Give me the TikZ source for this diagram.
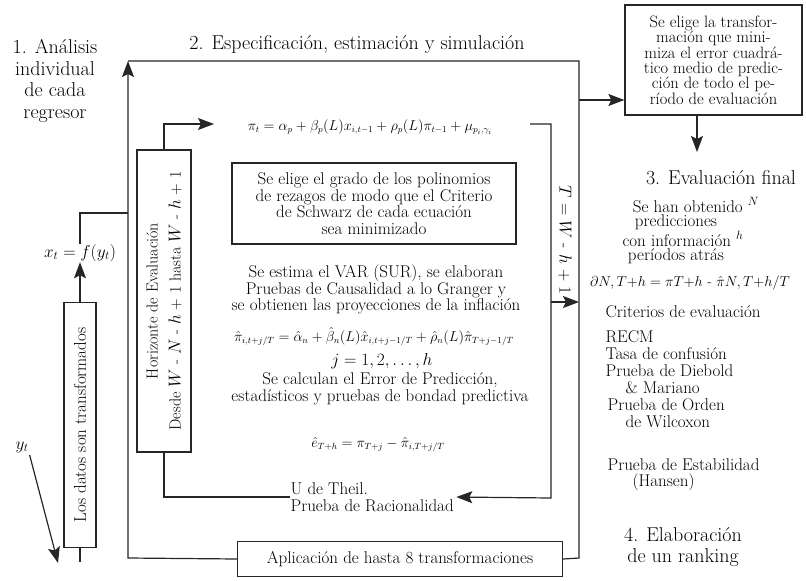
\documentclass[tikz,border=0pt]{standalone}
\usepackage{fontspec}
\usepackage{amsmath}
\usepackage{tikz}
\usetikzlibrary{positioning, arrows.meta}

\newcommand{\bodyfont}{\fontsize{17}{16.7}\selectfont}
\newcommand{\headfont}{\fontsize{20}{21.7}\selectfont}
\newcommand{\eqfont}{\fontsize{13.5}{15}\selectfont}

\begin{document}
\begin{tikzpicture}[x=1pt,y=-1pt,>={Stealth[length=16pt,width=12pt,inset=3pt]},
    line width=1.2pt,draw=black!85,
    every node/.style={font=\bodyfont,inner sep=0pt},
    head/.style={font=\headfont,align=center},
    rbox/.style={draw,line width=1.3pt,inner sep=4pt},
    eq/.style={font=\eqfont}]
    \useasboundingbox (0,0) rectangle (806,581);

    % headings
    \node[head] (analisis) at (55,81) {1. Análisis\\individual\\de cada\\regresor};
    \node[head] (especif) at (357,45) {2. Especificación, estimación y simulación};

    % outer loop
    \coordinate (tl) at (128,61);
    \coordinate (tr) at (579,61);
    \coordinate (br) at (579,558);
    \coordinate (bl) at (128,558);
    \coordinate (join) at (128,213);
    \node[rbox,minimum width=325pt,minimum height=35pt] (aplic) at (400,559) {Aplicación de hasta 8 transformaciones};
    \draw[->] (aplic.west) -- (bl) -- (tl);
    \draw (tl) -- (tr) -- (br) -- (aplic.east);

    % data
    \node (xt) at (80,253) {$x_t = f(y_t)$};
    \node[rbox,rotate=90,minimum width=245pt,minimum height=32pt] (datos) at (80,425) {Los datos son transformados};
    \coordinate (datosend) at (80,562);
    \node (yt) at (22,447) {$y_t$};
    \coordinate (ytend) at (58,563);
    \draw (xt.north) |- (join);
    \draw[->] (datos.east) -- (xt.south);
    \draw (datos.west) -- (datosend);
    \draw[->,shorten <=2pt] (yt.south east) -- (ytend);

    % inner loop
    \node[rbox,rotate=90,minimum width=302pt,minimum height=54pt,align=center,
          font=\fontsize{16}{23}\selectfont] (horiz) at (164,301)
          {Horizonte de Evaluación\\Desde $W$ - $N$ - $h$ + 1 hasta $W$ - $h$ + 1};
    \node[eq] (pit) at (370,127) {$\pi_t=\alpha_p+\beta_p(L)x_{i,t-1}+\rho_p(L)\pi_{t-1}+\mu_{p_i,\gamma_i}$};
    \coordinate (pitin) at (214,124);
    \coordinate (loopa) at (530,124);
    \coordinate (loopb) at (551,498);
    \node[anchor=west,align=left] (theil) at (290,497) {U de Theil.\\Prueba de Racionalidad};
    \draw[->] (horiz.east) |- (pitin);
    \draw[->,shorten >=2pt] (loopa) -| (loopb) -- (theil.east);
    \draw (theil.west) -| (horiz.west);

    \node[rbox,align=center,minimum width=284pt,minimum height=81pt] (grado) at (374,203.5)
          {Se elige el grado de los polinomios\\de rezagos de modo que el Criterio\\de Schwarz de cada ecuación\\sea minimizado};
    \node[align=center] (var) at (376,289.5)
          {Se estima el VAR (SUR), se elaboran\\Pruebas de Causalidad a lo Granger y\\se obtienen las proyecciones de la inflación};
    \node[eq] (pihat) at (374,337) {$\hat\pi_{i,t+j/T}=\hat\alpha_n+\hat\beta_n(L)\hat x_{i,t+j-1/T}+\hat\rho_n(L)\hat\pi_{T+j-1/T}$};
    \node (jidx) at (382,361) {$j = 1,2,\ldots,h$};
    \node[align=center] (calc) at (380,389)
          {Se calculan el Error de Predicción,\\estadísticos y pruebas de bondad predictiva};
    \node[eq] (ehat) at (378,445) {$\hat e_{T+h}=\pi_{T+j}-\hat\pi_{i,T+j/T}$};

    % exit of the inner loop
    \coordinate (exitl) at (551,302);
    \coordinate (exitr) at (579,302);
    \node[rotate=-90] (tcond) at (565,240) {$T$ = $W$ - $h$ + 1};
    \draw[->] (exitl) -- (exitr);

    % final evaluation
    \node[rbox,align=center,minimum width=177pt,minimum height=110pt,
          font=\fontsize{16.5}{15.4}\selectfont] (transf) at (713.5,60)
          {Se elige la transfor-\\mación que mini-\\miza el error cuadrá-\\tico medio de predic-\\ción de todo el pe-\\ríodo de evaluación};
    \coordinate (transin) at (579,100);
    \coordinate (evalin) at (697,152);
    \draw[->] (transin) -- (transin -| transf.west);
    \draw[->] (transf.south -| evalin) -- (evalin);

    \node[head] (evalfin) at (721,178) {3. Evaluación final};
    \node (obten) at (696,205) {Se han obtenido $^N$};
    \node (predic) at (676,222) {predicciones};
    \node (coninf) at (683,239) {con información $^h$};
    \node (periodos) at (676,256) {períodos atrás};
    \node[font=\fontsize{15}{16}\selectfont] (errfin) at (690,283) {$\partial N,T{+}h = \pi T{+}h$ - $\hat\pi N,T{+}h/T$};
    \node[anchor=west] (crit) at (605,312) {Criterios de evaluación};
    \node[anchor=west] (recm) at (605,337) {RECM};
    \node[anchor=west] (tasa) at (605,354) {Tasa de confusión};
    \node[anchor=west] (diebold) at (605,371) {Prueba de Diebold};
    \node[anchor=west] (mariano) at (625,388) {\& Mariano};
    \node[anchor=west] (orden) at (607,405) {Prueba de Orden};
    \node[anchor=west] (wilcox) at (625,422) {de Wilcoxon};
    \node[anchor=west] (estab) at (607,465) {Prueba de Estabilidad};
    \node[anchor=west] (hansen) at (632,482) {(Hansen)};
    \node[head,font=\fontsize{20}{21}\selectfont] (ranking) at (683,547) {4. Elaboración\\de un ranking};
\end{tikzpicture}
\end{document}
